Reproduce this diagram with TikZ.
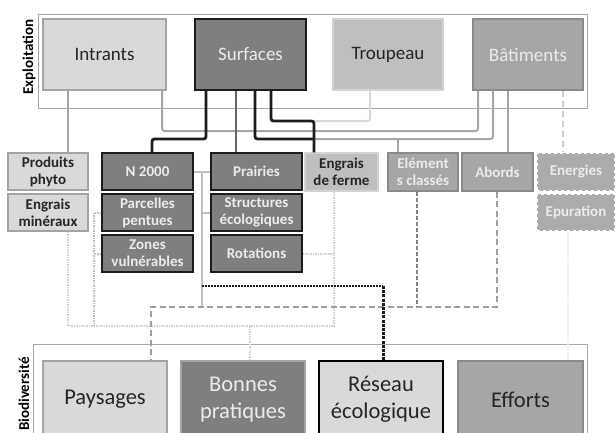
\documentclass[tikz,border=0pt]{standalone}
\usepackage{fontspec}
\setmainfont{Carlito}
\definecolor{cLight}{HTML}{D9D9D9}
\definecolor{cLightB}{HTML}{A3A3A3}
\definecolor{cDark}{HTML}{7F7F7F}
\definecolor{cBlack}{HTML}{1C1C1C}
\definecolor{cPale}{HTML}{BFBFBF}
\definecolor{cPaleB}{HTML}{D4D4D4}
\definecolor{cMid}{HTML}{A6A6A6}
\definecolor{cMidB}{HTML}{8A8A8A}
\definecolor{cMid2}{HTML}{ABABAB}
\definecolor{cTxt}{HTML}{262626}
\definecolor{cTxtL}{HTML}{EBEBEB}
\definecolor{cFrame}{HTML}{A8A8A8}
\newcommand\mkbox[7]{%
  \node[#6, minimum width={(#4-#2)*1pt}, minimum height={(#5-#3)*1pt}] (#1) at ({(#2+#4)/2},{(#3+#5)/2}) {#7};}
\begin{document}
\begin{tikzpicture}[x=1pt,y=-1pt,
  every node/.style={inner sep=0pt, align=center},
  fTop/.style={font=\fontsize{19}{23}\selectfont},
  fMid/.style={font=\bfseries\fontsize{15}{17}\selectfont},
  fLow/.style={font=\fontsize{22.5}{27}\selectfont},
  fLab/.style={font=\bfseries\fontsize{15}{15}\selectfont, rotate=90, text=black},
  bL/.style={draw=cLightB, fill=cLight, text=cTxt, line width=1.3pt},
  bD/.style={draw=cBlack, fill=cDark, text=cTxtL, line width=1.3pt},
  bDg/.style={draw=cLightB, fill=cDark, text=cTxtL, line width=1.3pt},
  bP/.style={draw=cPaleB, fill=cPale, text=cTxt, line width=1.3pt},
  bM/.style={draw=cMidB, fill=cMid, text=cTxtL, line width=1.3pt},
  bMd/.style={draw=cMidB, fill=cMid, text=cTxt, line width=1.3pt},
  bE/.style={draw=white, dashed, fill=cMid2, text=cTxtL, line width=1.3pt},
  bR/.style={draw=black, fill=cLight, text=cTxt, line width=1.6pt},
  frameS/.style={draw=cFrame, fill=white, line width=0.9pt},
  conB/.style={draw=cBlack, line width=2.8pt, rounded corners=2.5pt},
  conG/.style={draw=black!60, line width=2.4pt},
  conM/.style={draw=black!35, line width=2pt, rounded corners=2.5pt},
  conPale/.style={draw=black!15, line width=2pt, rounded corners=2.5pt},
  conDashL/.style={draw=black!20, line width=2pt, dash pattern=on 6pt off 4pt},
  conHub/.style={draw=black!25, line width=2pt},
  conDot/.style={draw=black!18, line width=2pt, dash pattern=on 1.5pt off 1pt},
  conDotD/.style={draw=black!25, line width=2pt, dash pattern=on 1.5pt off 1pt},
  conDash/.style={draw=black!38, line width=2pt, dash pattern=on 6pt off 3.5pt},
  conDashD/.style={draw=black!50, line width=2.6pt, dash pattern=on 4pt off 2pt},
  conBdot/.style={draw=cBlack, line width=1.8pt, dash pattern=on 2pt off 1pt},
  conBdash/.style={draw=cBlack, line width=3pt, dash pattern=on 3pt off 1.2pt},
  conFaint/.style={draw=black!9, line width=1.5pt, dash pattern=on 1.5pt off 1pt}
]
\useasboundingbox (0,0) rectangle (616,432);
\clip (0,0) rectangle (616,432);
% frames
\node[frameS, minimum width=549pt, minimum height=94pt] (topf) at (312.5,61) {};
\node[frameS, minimum width=554pt, minimum height=100pt] (botf) at (310,394) {};
\node[fLab] (lexp) at (29,57) {Exploitation};
\node[fLab] (lbio) at (24,394) {Biodiversité};
% top boxes
\mkbox{intr}{43}{19}{166}{90}{bL,fTop}{Intrants}
\mkbox{surf}{195}{19}{306}{90}{bD,fTop}{Surfaces}
\mkbox{trou}{333}{19}{443}{90}{bP,fTop}{Troupeau}
\mkbox{bat}{473}{19}{583}{90}{bM,fTop}{Bâtiments}
% junctions
\coordinate (jA) at (314,121);
\coordinate (jB) at (314,139);
\coordinate (jC) at (398,139);
\coordinate (hub) at (202,286);
\coordinate (hubEnd) at (202,307);
\coordinate (jD) at (417,307);
\coordinate (jE) at (94,326);
\coordinate (jF) at (250,326);
\coordinate (jG) at (383,286);
\coordinate (jH) at (497,307);
\coordinate (jI) at (151,307);
% middle boxes
\mkbox{prod}{8}{153}{88}{190}{bL,fMid}{Produits\\phyto}
\mkbox{engm}{8}{194}{88}{231}{bL,fMid}{Engrais\\minéraux}
\mkbox{n2k}{102}{153}{193}{190}{bD,fMid}{N 2000}
\mkbox{parc}{102}{194}{193}{231}{bD,fMid}{Parcelles\\pentues}
\mkbox{zone}{102}{235}{193}{272}{bD,fMid}{Zones\\vulnérables}
\mkbox{prai}{211}{153}{302}{190}{bD,fMid}{Prairies}
\mkbox{stru}{211}{194}{302}{231}{bD,fMid}{Structures\\écologiques}
\mkbox{rota}{211}{235}{302}{272}{bD,fMid}{Rotations}
\mkbox{engf}{305}{153}{378}{191}{bP,fMid}{Engrais\\de ferme}
\mkbox{elem}{388}{153}{458}{191}{bM,fMid}{Elément\\s classés}
\mkbox{abo}{462}{153}{533}{191}{bM,fMid}{Abords}
\mkbox{ener}{537}{153}{615}{191}{bE,fMid}{Energies}
\mkbox{epur}{537}{194}{615}{231}{bE,fMid}{Epuration}
% bottom boxes
\mkbox{pays}{43}{361}{167}{438}{bL,fLow}{Paysages}
\mkbox{bonn}{181}{361}{305}{438}{bDg,fLow}{Bonnes\\pratiques}
\mkbox{rese}{319}{361}{443}{438}{bR,fLow}{Réseau\\écologique}
\mkbox{effo}{458}{361}{583}{438}{bMd,fLow}{Efforts}
% upper connectors
\draw[conM] (intr.south -| 68,0) -- (prod.north -| 68,0);
\draw[conM] (intr.south -| 162,0) -- (162,131) -- (478,131) -- (bat.south -| 478,0);
\draw[conPale] (trou.south -| 370,0) -- (370,121) -- (jA);
\draw[conM] (bat.south -| 493,0) -- (493,139) -- (jB);
\draw[conM] (jC) -- (elem.north -| jC);
\draw[conM] (bat.south -| 508,0) -- (abo.north -| 508,0);
\draw[conDashL] (bat.south -| 563,0) -- (ener.north -| 563,0);
\draw[conG] (surf.south -| 236,0) -- (prai.north -| 236,0);
\draw[conB] (surf.south -| 206,0) -- (206,139) -- (152,139) -- (n2k.north -| 152,0);
\draw[conB] (surf.south -| 255,0) -- (255,139) -- (jB);
\draw[conB] (surf.south -| 271,0) -- (271,121) -- (jA) -- (engf.north -| jA);
% lower connectors
\draw[conFaint] (epur.south -| 568,0) -- (effo.north -| 568,0);
\draw[conDot] (engm.south -| 68,0) -- (68,326) -- (334,326) -- (engf.south -| 334,0);
\draw[conDotD] (parc.west) -- (parc.west -| jE) -- (jE);
\draw[conDotD] (zone.west) -- (zone.west -| jE);
\draw[conDot] (rota.east) -- (rota.east -| 334,0);
\draw[conDot] (jF) -- (bonn.north -| jF);
\draw[conHub] (n2k.east) -- (prai.west);
\draw[conHub] (n2k.east -| hub) -- (hubEnd);
\draw[conHub] (stru.west) -- (stru.west -| hub);
\draw[conDash] (abo.south -| jH) -- (jH) -- (jI) -- (pays.north -| jI);
\draw[conDashD] (elem.south -| jD) -- (jD);
\draw[conBdot] (hub) -- (jG);
\draw[conBdash] (jG) -- (rese.north -| jG);
\end{tikzpicture}
\end{document}
